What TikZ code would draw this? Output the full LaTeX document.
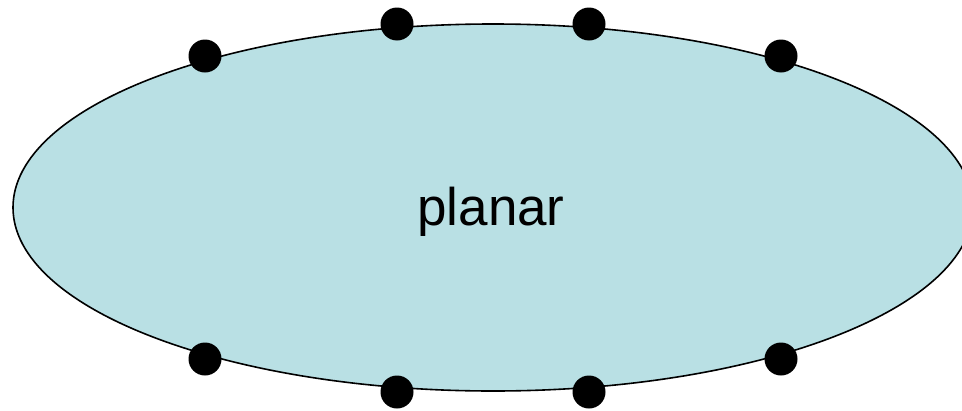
\documentclass[tikz,border=0pt]{standalone}
\usepackage{fontspec}
\setmainfont{Liberation Sans}
\usetikzlibrary{shapes.geometric}
\definecolor{fillblue}{HTML}{B9E0E4}
\begin{document}
\begin{tikzpicture}[x=1pt,y=-1pt,
  dot/.style={circle,fill=black,inner sep=0pt,minimum size=33pt},
  blob/.style={ellipse,draw=black,line width=1.6pt,fill=fillblue,inner sep=0pt,minimum width=960pt,minimum height=367pt}]
\useasboundingbox (0,0) rectangle (962,410);
\clip (0,0) rectangle (962,410);
\node[blob] (e) at (493,207.5) {};
\node[font=\fontsize{53}{60}\selectfont] (t) at (491,212) {planar};
\node[dot] (d1) at (205,56) {};
\node[dot] (d2) at (397,24) {};
\node[dot] (d3) at (589,24) {};
\node[dot] (d4) at (781,56) {};
\node[dot] (d5) at (205,359) {};
\node[dot] (d6) at (397,392) {};
\node[dot] (d7) at (589,392) {};
\node[dot] (d8) at (781,359) {};
\end{tikzpicture}
\end{document}
